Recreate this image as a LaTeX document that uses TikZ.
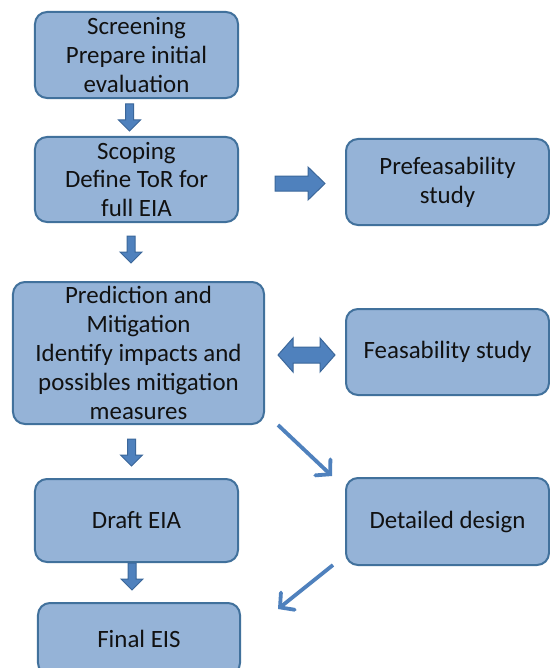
\documentclass[tikz,border=0pt]{standalone}
\usepackage{fontspec}
\setmainfont{Carlito}
\usetikzlibrary{arrows.meta}
\definecolor{boxfill}{HTML}{95B3D7}
\definecolor{boxline}{HTML}{41719C}
\definecolor{arrfill}{HTML}{4F81BD}
\definecolor{arrline}{HTML}{3B679A}
\definecolor{txt}{HTML}{111111}
\begin{document}
\begin{tikzpicture}[x=1bp,y=-1bp,
  box/.style={draw=boxline, line width=2bp, fill=boxfill, rounded corners=12bp,
    align=center, font=\fontsize{25}{29}\selectfont, text=txt, inner sep=0pt},
  blockarr/.style={fill=arrfill, draw=arrline, line width=1bp, line join=miter},
  thinarr/.style={draw=arrfill, line width=3.8bp,
    -{Straight Barb[length=10bp,width=22bp,line cap=round]}},
  downarr/.pic={\path[blockarr] (-4,0) -- (-4,16) -- (-11,16) -- (0,27) -- (11,16) -- (4,16) -- (4,0) -- cycle;}
]
\useasboundingbox (0,0) rectangle (550,668);
\fill[white] (0,0) rectangle (550,668);

\node[box, minimum width=203bp, minimum height=86bp] (screen) at (136.5,55)
  {Screening\\Prepare initial\\evaluation};
\node[box, minimum width=203bp, minimum height=85bp] (scope) at (136.5,179.5)
  {Scoping\\Define ToR for\\full EIA};
\node[box, minimum width=251bp, minimum height=142bp] (pred) at (138.5,353)
  {Prediction and\\Mitigation\\Identify impacts and\\possibles mitigation\\measures};
\node[box, minimum width=203bp, minimum height=83bp] (draft) at (136.5,520.5)
  {Draft EIA};
\node[box, minimum width=202bp, minimum height=72bp] (final) at (139,639)
  {Final EIS};
\node[box, minimum width=203bp, minimum height=86bp] (prefeas) at (447.5,182)
  {Prefeasability\\study};
\node[box, minimum width=203bp, minimum height=86bp] (feas) at (447.5,352)
  {\raisebox{-2bp}{Feasability study}};
\node[box, minimum width=203bp, minimum height=87bp] (detail) at (447.5,521.5)
  {Detailed design};

% block arrows down
\pic at (129.5,104) {downarr};
\pic at (131,236) {downarr};
\pic at (131.5,439) {downarr};
\pic at (132,563) {downarr};

% right block arrow
\path[blockarr] (275,176) -- (308,176) -- (308,167) -- (325,183.5) -- (308,200)
  -- (308,191) -- (275,191) -- cycle;
% double block arrow
\path[blockarr] (278,355) -- (293,338) -- (293,347) -- (320,347) -- (320,338)
  -- (335,355) -- (320,372) -- (320,363) -- (293,363) -- (293,372) -- cycle;

% thin arrows
\coordinate (t1s) at (278,425);
\coordinate (t1e) at (332,476);
\coordinate (t2s) at (333,565);
\coordinate (t2e) at (278,609);
\draw[thinarr] (t1s) -- (t1e);
\draw[thinarr] (t2s) -- (t2e);
\end{tikzpicture}
\end{document}
